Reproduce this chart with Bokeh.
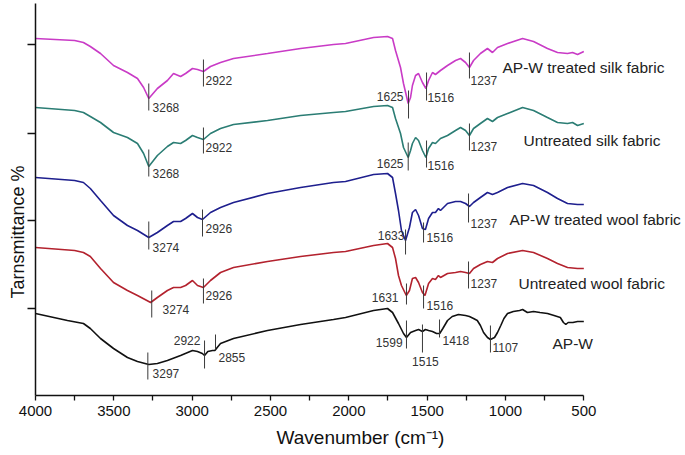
from bokeh.plotting import figure
from bokeh.models import Range1d, FixedTicker, CustomJSTickFormatter, Title
from bokeh.core.properties import value
from bokeh.embed import file_html
from bokeh.resources import INLINE

# ---------------- data (wavenumber cm-1, stacked transmittance, arbitrary units) ----------------
silk_trt_w = [4000, 3750, 3694, 3650, 3585, 3502, 3413, 3349, 3310, 3277, 3222, 3158, 3119, 3074, 3042, 2998, 2966, 2928, 2883, 2819, 2736, 2519, 2308, 2098, 2021, 1842, 1753, 1721, 1702, 1670, 1651, 1621, 1606, 1594, 1574, 1555, 1530, 1508, 1491, 1466, 1447, 1415, 1370, 1319, 1287, 1255, 1230, 1204, 1160, 1115, 1083, 1051, 987, 891, 821, 732, 668, 604, 572, 540, 500]
silk_trt_t = [357, 355, 353, 349, 342, 330, 323, 317, 308, 297, 307, 315, 322, 319, 322, 327, 326, 324, 329, 333, 337, 342, 347, 351, 352, 358, 359, 357, 345, 328, 312, 292, 298, 310, 320, 322, 313, 307, 315, 323, 321, 325, 330, 335, 337, 333, 328, 335, 342, 347, 343, 348, 352, 357, 354, 347, 343, 342, 343, 341, 344]

silk_unt_w = [4000, 3750, 3694, 3650, 3585, 3502, 3413, 3349, 3310, 3277, 3222, 3158, 3119, 3074, 3042, 2998, 2966, 2928, 2883, 2819, 2736, 2519, 2308, 2098, 2021, 1842, 1753, 1721, 1702, 1670, 1651, 1621, 1606, 1594, 1574, 1555, 1530, 1508, 1491, 1466, 1447, 1415, 1370, 1319, 1287, 1255, 1230, 1204, 1160, 1115, 1083, 1051, 987, 891, 821, 732, 668, 604, 572, 540, 500]
silk_unt_t = [288, 285, 283, 279, 273, 263, 258, 252, 242, 229, 240, 249, 253, 252, 255, 260, 258, 256, 262, 267, 271, 275, 280, 283, 284, 289, 290, 288, 277, 262, 248, 238, 245, 252, 258, 255, 245, 238, 247, 253, 252, 257, 260, 265, 268, 265, 260, 267, 272, 277, 274, 278, 282, 288, 285, 278, 273, 272, 273, 270, 272]

wool_trt_w = [4000, 3750, 3694, 3650, 3585, 3502, 3413, 3349, 3277, 3222, 3158, 3119, 3074, 3042, 2998, 2966, 2934, 2883, 2819, 2736, 2519, 2308, 2098, 2021, 1842, 1753, 1721, 1702, 1683, 1664, 1638, 1613, 1594, 1574, 1555, 1530, 1511, 1491, 1466, 1447, 1428, 1415, 1370, 1319, 1287, 1255, 1230, 1204, 1160, 1115, 1083, 1051, 987, 891, 821, 732, 668, 604, 540, 500]
wool_trt_t = [218, 215, 213, 207, 195, 180, 170, 165, 158, 163, 170, 174, 174, 177, 182, 178, 176, 183, 188, 193, 202, 208, 213, 214, 221, 222, 218, 202, 185, 165, 155, 168, 183, 186, 180, 167, 166, 177, 183, 183, 187, 185, 192, 194, 194, 192, 189, 193, 198, 203, 201, 203, 208, 212, 210, 203, 197, 192, 191, 191]

wool_unt_w = [4000, 3750, 3694, 3650, 3585, 3502, 3413, 3349, 3265, 3222, 3158, 3119, 3074, 3042, 2998, 2966, 2928, 2883, 2819, 2736, 2519, 2308, 2098, 2021, 1842, 1753, 1721, 1702, 1683, 1664, 1633, 1613, 1594, 1574, 1555, 1530, 1514, 1491, 1466, 1447, 1428, 1415, 1370, 1319, 1287, 1255, 1230, 1204, 1160, 1115, 1083, 1051, 987, 891, 821, 732, 668, 604, 540, 500]
wool_unt_t = [148, 145, 143, 139, 127, 113, 105, 100, 93, 98, 105, 108, 108, 110, 115, 110, 108, 115, 123, 128, 134, 139, 143, 144, 150, 152, 148, 137, 120, 110, 100, 105, 117, 118, 113, 103, 100, 112, 117, 116, 120, 118, 122, 123, 124, 123, 122, 127, 131, 134, 133, 137, 142, 145, 143, 137, 132, 128, 127, 127]

apw_w = [4000, 3796, 3694, 3650, 3585, 3502, 3413, 3349, 3277, 3222, 3158, 3074, 2998, 2966, 2935, 2921, 2900, 2870, 2855, 2840, 2819, 2736, 2519, 2308, 2098, 2021, 1842, 1753, 1721, 1683, 1651, 1632, 1606, 1574, 1555, 1530, 1511, 1491, 1466, 1440, 1420, 1400, 1370, 1340, 1300, 1255, 1230, 1204, 1180, 1160, 1140, 1115, 1096, 1070, 1051, 1030, 1010, 987, 950, 910, 891, 860, 821, 780, 732, 690, 650, 630, 615, 600, 570, 540, 500]
apw_t = [82, 75, 72, 67, 57, 47, 38, 34, 31, 32, 35, 40, 45, 44, 42, 40, 44, 45, 45, 48, 52, 57, 65, 71, 76, 78, 85, 87, 83, 72, 62, 58, 63, 65, 66, 64, 66, 65, 64, 62, 62, 67, 75, 79, 81, 80, 79, 77, 75, 70, 63, 58, 56, 58, 63, 70, 77, 82, 84, 85, 86, 83, 84, 83, 82, 80, 78, 73, 71, 73, 73, 74, 74]

series_names = ["AP-W treated silk fabric", "Untreated silk fabric", "AP-W treated wool fabric", "Untreated wool fabric", "AP-W"]
series_w = [silk_trt_w, silk_unt_w, wool_trt_w, wool_unt_w, apw_w]
series_t = [silk_trt_t, silk_unt_t, wool_trt_t, wool_unt_t, apw_t]
series_colors = ["#C93BC6", "#2B7D74", "#1E1F8E", "#B3222E", "#111111"]
name_w = [1019, 885, 975, 917, 700]
name_t = [328, 255, 176, 112, 52]

# peak markers: position, marker top, marker bottom, label text, label position, alignment
peak_w = [3277, 2928, 1619, 1504, 1230,
          3277, 2928, 1621, 1504, 1230,
          3277, 2934, 1638, 1523, 1236,
          3258, 2928, 1632, 1523, 1236,
          3283, 2921, 2851, 1632, 1530, 1421, 1096]
peak_top = [312, 336, 305, 323, 343,
            246, 268, 253, 255, 272,
            174, 186, 166, 173, 202,
            105, 117, 112, 110, 134,
            43, 55, 61, 75, 71, 76, 70]
peak_bot = [285, 309, 277, 295, 317,
            219, 242, 225, 228, 245,
            146, 159, 141, 153, 173,
            78, 92, 91, 87, 107,
            16, 27, 46, 47, 43, 58, 43]
peak_text = ["3268", "2922", "1625", "1516", "1237",
             "3268", "2922", "1625", "1516", "1237",
             "3274", "2926", "1633", "1516", "1237",
             "3274", "2926", "1631", "1516", "1237",
             "3297", "2922", "2855", "1599", "1515", "1418", "1107"]
label_w = [3253, 2915, 1651, 1498, 1223,
           3253, 2915, 1651, 1498, 1223,
           3253, 2915, 1645, 1504, 1223,
           3189, 2915, 1683, 1504, 1223,
           3253, 2947, 2832, 1657, 1511, 1402, 1083]
label_t = [288, 315, 299, 298, 315,
           222, 248, 232, 230, 249,
           148, 167, 160, 158, 172,
           86, 100, 98, 90, 112,
           22, 55, 38, 53, 34, 55, 48]
label_align = ["left", "left", "right", "left", "left",
               "left", "left", "right", "left", "left",
               "left", "left", "right", "left", "left",
               "left", "left", "right", "left", "left",
               "left", "right", "left", "right", "center", "left", "left"]

x_major = [4000, 3500, 3000, 2500, 2000, 1500, 1000, 500]
x_minor = [3750, 3250, 2750, 2250, 1750, 1250, 750]
y_ticks = [87, 175, 262, 351]
y_title = "Tarnsmittance %"

FONT = "Liberation Sans"

p = figure(width=685, height=455, output_backend="svg", toolbar_location=None,
           x_range=Range1d(4000, -149), y_range=Range1d(0, 395),
           min_border_left=35, min_border_right=0, min_border_top=0, min_border_bottom=60)
p.outline_line_color = None
p.xgrid.visible = False
p.ygrid.visible = False

# x axis
xa = p.xaxis[0]
xa.ticker = FixedTicker(ticks=x_major, minor_ticks=x_minor)
xa.bounds = (500, 4045)
xa.axis_line_width = 1.5
xa.axis_line_color = "#111111"
xa.major_tick_line_color = "#111111"
xa.minor_tick_line_color = "#111111"
xa.major_tick_line_width = 1.3
xa.minor_tick_line_width = 1.3
xa.major_tick_in = 0
xa.major_tick_out = 5
xa.minor_tick_in = 0
xa.minor_tick_out = 5
xa.major_label_text_font = FONT
xa.major_label_text_font_size = "15px"
xa.major_label_text_color = "#111111"
xa.major_label_standoff = 5
xa.axis_label = "Wavenumber (cm\u207b\u00b9)"
xa.axis_label_text_font = FONT
xa.axis_label_text_font_size = "19px"
xa.axis_label_text_font_style = "normal"
xa.axis_label_text_color = "#111111"
xa.axis_label_standoff = 8

# y axis
ya = p.yaxis[0]
ya.ticker = FixedTicker(ticks=y_ticks, minor_ticks=[])
ya.formatter = CustomJSTickFormatter(code="return ''")
ya.bounds = (0, 392)
ya.axis_line_width = 1.5
ya.axis_line_color = "#111111"
ya.major_tick_line_color = "#111111"
ya.major_tick_line_width = 1.3
ya.major_tick_in = 0
ya.major_tick_out = 8
ya.minor_tick_out = 0
ya.minor_tick_in = 0
ya.major_label_standoff = 0
ya.major_label_text_font_size = "1px"

# y title as a side title (placed lower like the original)
p.add_layout(Title(text=y_title, align="left", offset=97, standoff=0,
                   text_font=FONT, text_font_size="18px", text_font_style="normal",
                   text_color="#111111"), "left")

# spectra
for w, t, c in zip(series_w, series_t, series_colors):
    p.line(w, t, line_color=c, line_width=1.6)

# peak markers
p.segment(x0=peak_w, y0=peak_top, x1=peak_w, y1=peak_bot, line_color="#3a3a3a", line_width=1)

for al in ["left", "right", "center"]:
    idx = [i for i, a in enumerate(label_align) if a == al]
    p.text(x=[label_w[i] for i in idx], y=[label_t[i] for i in idx], text=[peak_text[i] for i in idx],
           text_align=al, text_baseline="middle", text_font=value(FONT),
           text_font_size="12px", text_color="#333333")

# series names
p.text(x=name_w, y=name_t, text=series_names, text_align="left", text_baseline="middle",
       text_font=value(FONT), text_font_size="15.5px", text_color="#222222")

open("out.html", "w").write(file_html(p, INLINE))
